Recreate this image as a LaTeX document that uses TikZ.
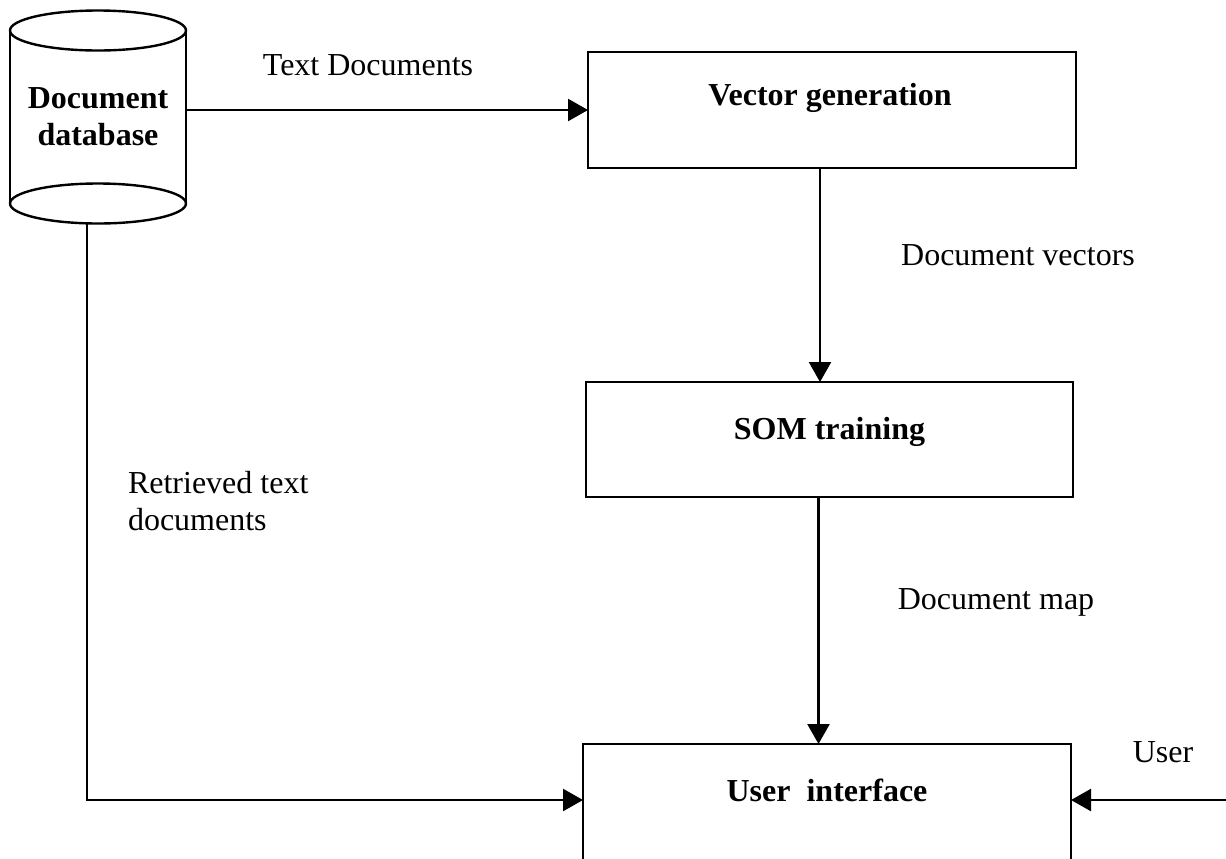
\documentclass[tikz,border=0pt]{standalone}
\usepackage{fontspec}
\setmainfont{Liberation Serif}
\usetikzlibrary{arrows.meta}
\begin{document}
\begin{tikzpicture}[x=0.5pt,y=-0.5pt,
  line width=1.2pt,
  txt/.style={font=\fontsize{16pt}{18.5pt}\selectfont, inner sep=0pt, outer sep=0pt},
  btxt/.style={font=\fontsize{16pt}{18.5pt}\selectfont\bfseries, inner sep=0pt, outer sep=0pt},
  boxnode/.style={draw, line width=1.2pt, inner sep=0pt, outer sep=0pt},
  arr/.style={-{Triangle[length=10pt,width=11pt]}, line width=1.2pt}]
\clip (0,0) rectangle (1226,858);
% database cylinder
\node[btxt, align=center, minimum width=88pt, minimum height=106.5pt] (db) at (98,117) {Document\\database};
\draw ([yshift=-10pt]db.north) ellipse [x radius=44pt, y radius=10pt];
\draw ([yshift=-10pt]db.north west) -- ([yshift=10pt]db.south west);
\draw ([yshift=-10pt]db.north east) -- ([yshift=10pt]db.south east);
\draw ([yshift=10pt]db.south) ellipse [x radius=44pt, y radius=10pt];
% boxes
\node[boxnode, minimum width=244pt, minimum height=58pt,
  label={[btxt, yshift=6.25pt, xshift=-1pt]center:Vector generation}] (vg) at (832,110) {};
\node[boxnode, minimum width=243.5pt, minimum height=57.5pt,
  label={[btxt, yshift=3.75pt]center:SOM training}] (som) at (829.5,439.5) {};
\node[boxnode, minimum width=244pt, minimum height=62pt,
  label={[btxt, yshift=8pt]center:User\ \ interface}] (ui) at (827,806) {};
% labels
\node[txt] (l1) at (368,65) {Text Documents};
\node[txt] (l2) at (1018,255) {Document vectors};
\node[txt] (l3) at (996,602) {Document map};
\node[txt, align=left, anchor=west] (l4) at (128,501.5) {Retrieved text\\documents};
\node[txt] (l5) at (1163,752) {User};
% connectors
\draw[arr] (db.east |- vg.west) -- (vg.west);
\draw[arr] ([xshift=-6pt]vg.south) -- ([xshift=-6pt]vg.south |- som.north);
\draw[arr] ([xshift=-5.5pt]som.south) -- ([xshift=-5.5pt]som.south |- ui.north);
\draw[arr] ([xshift=-5.5pt]db.south) |- ([yshift=3pt]ui.west);
\coordinate (uedge) at (1226,800);
\draw[arr] (uedge) -- (uedge -| ui.east);
\end{tikzpicture}
\end{document}
